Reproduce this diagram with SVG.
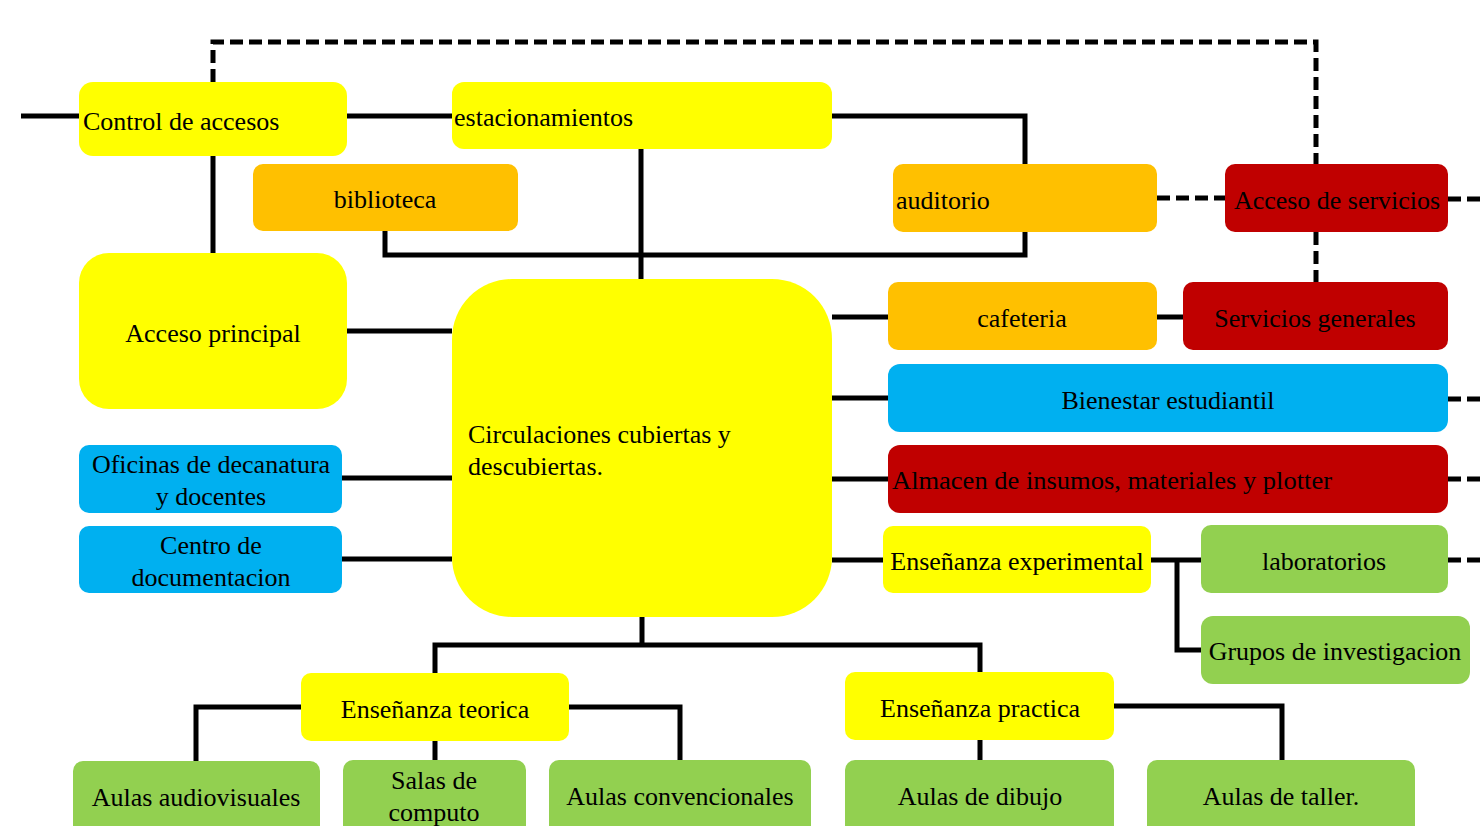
<svg xmlns="http://www.w3.org/2000/svg" width="1484" height="826" viewBox="0 0 1484 826">
<style>
.y{fill:#FFFF00}.o{fill:#FFC000}.r{fill:#C00000}.b{fill:#00B0F0}.g{fill:#92D050}
text{font-family:'Liberation Serif','DejaVu Serif',serif;font-size:26px;fill:#000}
.c{text-anchor:middle}
.s{fill:none;stroke:#000;stroke-width:5}
.d{fill:none;stroke:#000;stroke-width:5;stroke-dasharray:13 6}
</style>
<rect width="1484" height="826" fill="#fff"/>
<g id="connectors">
<path class="s" d="M21 116H79M347 116H452M832 116H1025V164M213 156V253M641 149V279M385 231V255H1025V232M347 331H452M832 317H888M1157 317H1183M832 398H888M832 479H888M832 560H883M1151 560H1201M1177 560V650H1201M342 478H452M342 559H452M642 617V645M435 673V645H980V672M301 707H196V761M435 741V760M569 707H680V760M980 740V760M1114 706H1282V760"/>
<path class="d" d="M213 82V42H1316V164M1316 232V282M1157 198H1225M1448 199H1484M1448 399H1484M1448 479H1484M1448 560H1484"/>
</g>
<g font-family="Liberation Serif, serif">
<g id="n-control"><rect class="y" x="79" y="82" width="268" height="74" rx="14"/><text x="83" y="130">Control de accesos</text></g>
<g id="n-estac"><rect class="y" x="452" y="82" width="380" height="67" rx="12"/><text x="454" y="126">estacionamientos</text></g>
<g id="n-biblio"><rect class="o" x="253" y="164" width="265" height="67" rx="10"/><text class="c" x="385" y="208">biblioteca</text></g>
<g id="n-audit"><rect class="o" x="893" y="164" width="264" height="68" rx="10"/><text x="896" y="209">auditorio</text></g>
<g id="n-accserv"><rect class="r" x="1225" y="164" width="223" height="68" rx="10"/><text class="c" x="1337" y="209" textLength="206" lengthAdjust="spacingAndGlyphs">Acceso de servicios</text></g>
<g id="n-accprin"><rect class="y" x="79" y="253" width="268" height="156" rx="30"/><text class="c" x="213" y="342">Acceso principal</text></g>
<g id="n-circ"><rect class="y" x="452" y="279" width="380" height="338" rx="60"/><text x="468" y="443">Circulaciones cubiertas y</text><text x="468" y="475">descubiertas.</text></g>
<g id="n-cafe"><rect class="o" x="888" y="282" width="269" height="68" rx="10"/><text class="c" x="1022" y="327">cafeteria</text></g>
<g id="n-servgen"><rect class="r" x="1183" y="282" width="265" height="68" rx="10"/><text class="c" x="1315" y="327">Servicios generales</text></g>
<g id="n-bien"><rect class="b" x="888" y="364" width="560" height="68" rx="12"/><text class="c" x="1168" y="409">Bienestar estudiantil</text></g>
<g id="n-almacen"><rect class="r" x="888" y="445" width="560" height="68" rx="12"/><text x="892" y="489" textLength="440" lengthAdjust="spacingAndGlyphs">Almacen de insumos, materiales y plotter</text></g>
<g id="n-ensexp"><rect class="y" x="883" y="526" width="268" height="67" rx="10"/><text class="c" x="1017" y="570">Enseñanza experimental</text></g>
<g id="n-labs"><rect class="g" x="1201" y="525" width="247" height="68" rx="10"/><text class="c" x="1324" y="570">laboratorios</text></g>
<g id="n-grupos"><rect class="g" x="1201" y="616" width="269" height="68" rx="12"/><text class="c" x="1335" y="660">Grupos de investigacion</text></g>
<g id="n-oficinas"><rect class="b" x="79" y="445" width="263" height="68" rx="10"/><text class="c" x="211" y="473">Oficinas de decanatura</text><text class="c" x="211" y="505">y docentes</text></g>
<g id="n-centro"><rect class="b" x="79" y="526" width="263" height="67" rx="10"/><text class="c" x="211" y="554">Centro de</text><text class="c" x="211" y="586">documentacion</text></g>
<g id="n-ensteo"><rect class="y" x="301" y="673" width="268" height="68" rx="10"/><text class="c" x="435" y="718">Enseñanza teorica</text></g>
<g id="n-enspra"><rect class="y" x="845" y="672" width="269" height="68" rx="10"/><text class="c" x="980" y="717">Enseñanza practica</text></g>
<g id="n-audiov"><rect class="g" x="73" y="761" width="247" height="75" rx="10"/><text class="c" x="196" y="806">Aulas audiovisuales</text></g>
<g id="n-salas"><rect class="g" x="343" y="760" width="183" height="76" rx="10"/><text class="c" x="434" y="789">Salas de</text><text class="c" x="434" y="821">computo</text></g>
<g id="n-conv"><rect class="g" x="549" y="760" width="262" height="76" rx="10"/><text class="c" x="680" y="805">Aulas convencionales</text></g>
<g id="n-dibujo"><rect class="g" x="845" y="760" width="269" height="76" rx="10"/><text class="c" x="980" y="805">Aulas de dibujo</text></g>
<g id="n-taller"><rect class="g" x="1147" y="760" width="268" height="76" rx="10"/><text class="c" x="1281" y="805">Aulas de taller.</text></g>
</g>
</svg>
